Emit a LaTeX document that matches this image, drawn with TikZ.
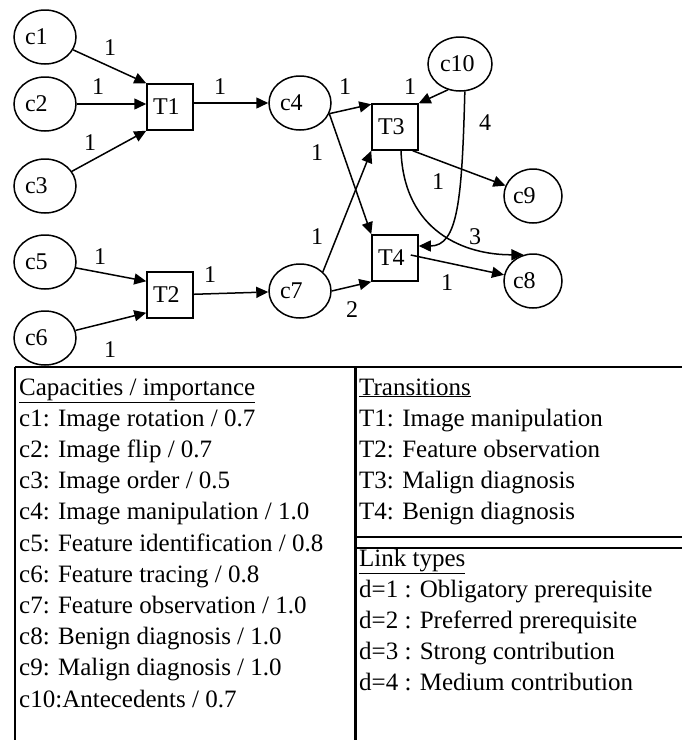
\documentclass[tikz,border=0pt]{standalone}
\usepackage{fontspec}
\setmainfont{Liberation Serif}
\usetikzlibrary{shapes.geometric,arrows.meta}

\tikzset{
  place/.style={ellipse,draw,line width=1.5pt,minimum width=62pt,minimum height=54pt,
    inner sep=0pt,text width=40pt,align=left,font=\fontsize{24}{28}\selectfont},
  trans/.style={rectangle,draw,line width=1.5pt,minimum size=46pt,inner sep=0pt,
    text width=34pt,align=left,font=\fontsize{24}{28}\selectfont},
  link/.style={line width=1.5pt,-{Triangle[length=12pt,width=11pt]}},
  wt/.style={inner sep=0pt,font=\fontsize{24}{28}\selectfont},
  row/.style={anchor=base west,inner sep=0pt,font=\fontsize{25}{30}\selectfont},
}

\begin{document}
\begin{tikzpicture}[x=1pt,y=-1pt]
\useasboundingbox (0,0) rectangle (682,740);

%画库所 c1--c10
\node[place] (c1) at (45,37) {c1};
\node[place] (c2) at (45,104) {c2};
\node[place] (c3) at (45,186) {c3};
\node[place] (c4) at (300,103) {c4};
\node[place] (c5) at (45,262) {c5};
\node[place] (c6) at (45,338) {c6};
\node[place] (c7) at (300,291) {c7};
\node[place,minimum width=58pt] (c8) at (533,281) {c8};
\node[place,minimum width=58pt] (c9) at (533,196) {c9};
\node[place,minimum width=64pt] (c10) at (460,64) {c10};

%画变迁 T1--T4
\node[trans] (T1) at (170,107) {T1};
\node[trans] (T2) at (170,295) {T2};
\node[trans] (T3) at (395,127) {T3};
\node[trans] (T4) at (395,258) {T4};

%左边的输入弧
\draw[link] (c1) -- (T1.north west);
\draw[link] (c2) -- (c2 -| T1.west);
\draw[link] (c3) -- (T1.south west);
\draw[link] (T1.east |- c4) -- (c4);
\draw[link] (c5) -- ([yshift=-10pt]T2.north west);
\draw[link] (c6) -- ([yshift=6pt]T2.south west);
\draw[link] (T2) -- (c7);

%中间交叉的弧
\draw[link] (c4.-20) -- ([yshift=-1pt]T3.north west);
\draw[link] (c4.-20) -- (T4.north west);
\draw[link] (c7.40) -- (T3.south west);
\draw[link] (c7.east) -- (T4.south west);

%右边的弧
\draw[link] (c10.245) -- (T3.north east);
\draw[link] (c10.-80) .. controls (462,200) and (458,246) .. ([yshift=12pt]T4.east);
\draw[link] ([xshift=-6pt]T3.south east) -- (c9);
\draw[link] ([xshift=6pt]T3.south) .. controls (404,232) and (465,255) .. (c8.110);
\draw[link] ([xshift=-8pt,yshift=3pt]T4.east) -- (c8);

%弧上的权值
\foreach \n/\x/\y/\t in {1/110/48/1, 2/98/87/1, 3/90/143/1, 4/220/87/1,
    5/345/87/1, 6/410/87/1, 7/317/153/1, 8/438/182/1, 9/485/123/4,
    10/317/237/1, 11/475/237/3, 12/447/283/1, 13/352/310/2,
    14/100/257/1, 15/210/275/1, 16/110/350/1}
  \node[wt] (w\n) at (\x,\y) {\t};

%下面的表格
\draw[line width=2pt] (15,367) -- (682,367);
\draw[line width=1.5pt] (15,367) -- (15,740);
\draw[line width=3pt] (355,367) -- (355,740);
\draw[line width=1.5pt] (355,537) -- (682,537);
\draw[line width=1.5pt] (355,548) -- (682,548);

\foreach \t [count=\i from 0] in {{\underline{Capacities / importance}},
    {c1: Image rotation / 0.7}, {c2: Image flip / 0.7}, {c3: Image order / 0.5},
    {c4: Image manipulation / 1.0}, {c5: Feature identification / 0.8},
    {c6: Feature tracing / 0.8}, {c7: Feature observation / 1.0},
    {c8: Benign diagnosis / 1.0}, {c9: Malign diagnosis / 1.0},
    {c10:Antecedents / 0.7}}
  \node[row] (cap\i) at (19,395+31.2*\i) {\t};

\foreach \t [count=\i from 0] in {{\underline{Transitions}},
    {T1: Image manipulation}, {T2: Feature observation},
    {T3: Malign diagnosis}, {T4: Benign diagnosis}}
  \node[row] (tr\i) at (359,395+31.2*\i) {\t};

\foreach \t [count=\i from 0] in {{\underline{Link types}},
    {d=1 : Obligatory prerequisite}, {d=2 : Preferred prerequisite},
    {d=3 : Strong contribution}, {d=4 : Medium contribution}}
  \node[row] (lk\i) at (359,566+31*\i) {\t};

\end{tikzpicture}
\end{document}
